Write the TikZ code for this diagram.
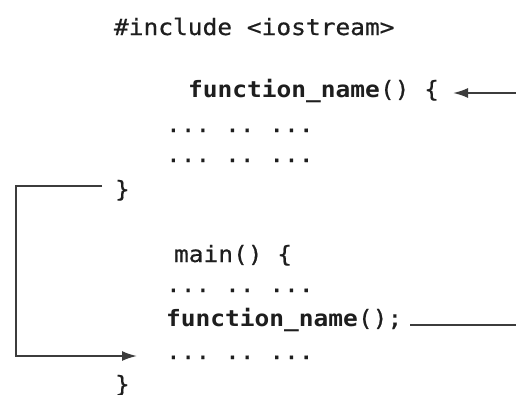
\documentclass[tikz,border=0pt]{standalone}
\usepackage{fontspec}
\usetikzlibrary{arrows.meta}
\newfontfamily\codefont[FakeStretch=1.09,UprightFeatures={FakeBold=0.6}]{DejaVu Sans Mono}
\definecolor{txt}{HTML}{1E1E1E}
\definecolor{ln}{HTML}{3C3C3C}
\newcommand{\csp}{\phantom{.}}
\begin{document}
\begin{tikzpicture}[x=1pt,y=-1pt,
  code/.style={anchor=base west,inner sep=0pt,outer sep=0pt,font=\codefont\fontsize{22.5}{27}\selectfont,text=txt},
  conn/.style={draw=ln,line width=1.9pt},
  tip/.style={-{Latex[length=15pt,width=10pt]}}]
\useasboundingbox[fill=white] (0,0) rectangle (516,394);
\node[code] (inc) at (114,35) {\#include\csp<iostream>};
\node[code] (fdef) at (188,97) {\textbf{function\_name}()\csp\{};
\node[code] (d1) at (166,132) {...\csp..\csp...};
\node[code] (d2) at (166,162) {...\csp..\csp...};
\node[code] (cb1) at (115,197) {\}};
\node[code] (mn) at (174,262) {main()\csp\{};
\node[code] (d3) at (166,292) {...\csp..\csp...};
\node[code] (call) at (166,326) {\textbf{function\_name}();};
\node[code] (d4) at (166,359) {...\csp..\csp...};
\node[code] (cb2) at (115,392) {\}};
\coordinate (rtop) at (516,93);
\coordinate (rcall) at (516,325);
\coordinate (lc1) at (16,186);
\coordinate (lc2) at (16,356);
\draw[conn,tip] (rtop) -- ([xshift=14pt]fdef.east |- rtop);
\draw[conn] (rcall) -- ([xshift=8pt]call.east |- rcall);
\draw[conn,tip] ([xshift=-13pt]cb1.west |- lc1) -- (lc1) -- (lc2) -- ([xshift=-29pt]d4.west |- lc2);
\end{tikzpicture}
\end{document}
